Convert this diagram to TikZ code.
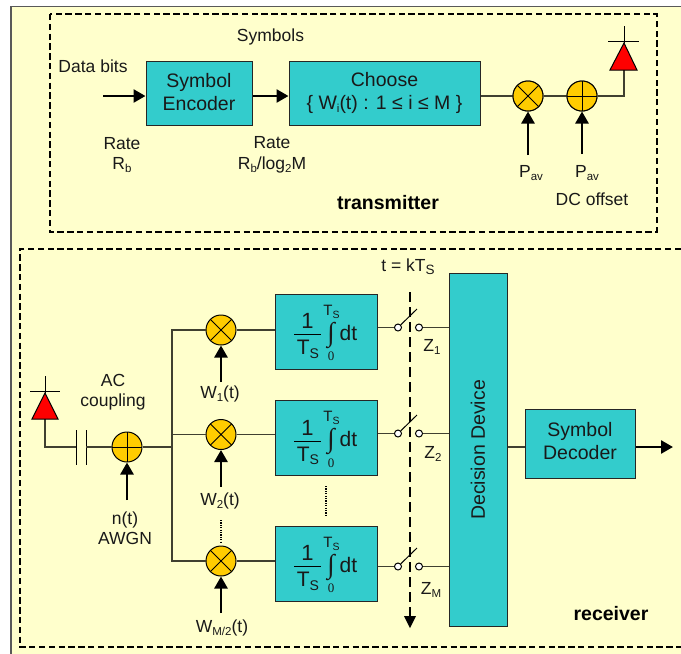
\documentclass[tikz,border=0pt]{standalone}
\usepackage{fontspec}
\setmainfont{Liberation Sans}
\newfontfamily\serifint{Liberation Serif}
\usetikzlibrary{arrows.meta,calc}
\definecolor{cream}{HTML}{FFFFCC}
\definecolor{tealbox}{HTML}{33CCCC}
\definecolor{amber}{HTML}{FFCC00}
\definecolor{wire}{HTML}{404030}
\newcommand{\szA}{\fontsize{17.5}{20.5}\selectfont}
\newcommand{\szB}{\fontsize{19.5}{23}\selectfont}
\newcommand{\lowsub}[1]{\raisebox{-0.16em}{\fontsize{11.5}{12}\selectfont #1}}
\newcommand{\intbody}[1]{%
  \node[intxt,font=\fontsize{22}{24}\selectfont] (#1one) at ($(#1.center)+(-18.5,-10.5)$) {1};
  \node[intxt,font=\fontsize{21}{24}\selectfont] (#1den) at ($(#1.center)+(-18,18)$) {T\raisebox{-0.16em}{\fontsize{14}{16}\selectfont S}};
  \draw[line width=0.9pt] ($(#1.center)+(-32,3)$) -- ($(#1.center)+(-5,3)$);
  \node[intxt,font=\serifint\fontsize{27}{28}\selectfont] (#1int) at ($(#1.center)+(5,3.5)$) {∫};
  \node[intxt,font=\fontsize{15}{16}\selectfont] (#1up) at ($(#1.center)+(5.5,-20)$) {T\raisebox{-0.2em}{\fontsize{10.5}{11}\selectfont S}};
  \node[intxt,font=\serifint\fontsize{13}{14}\selectfont] (#1lo) at ($(#1.center)+(5,25)$) {0};
  \node[intxt,font=\fontsize{21}{22}\selectfont] (#1dt) at ($(#1.center)+(22.5,1)$) {dt};
}
\tikzset{
  x=1pt,y=-1pt,
  txt/.style={inner sep=0pt,font=\szA,text=black!90,align=center},
  intxt/.style={inner sep=0pt,text=black!90},
  boldtxt/.style={inner sep=0pt,font=\bfseries\fontsize{19.5}{22}\selectfont},
  block/.style={draw=black!85,line width=1pt,fill=tealbox,inner sep=0pt},
  blocktxt/.style={inner sep=0pt,font=\szB,align=center,text=black!90},
  wireline/.style={draw=wire,line width=1.1pt},
  sigarrow/.style={line width=2.6pt,-{Triangle[length=12pt,width=13pt]}},
  dashbox/.style={line width=2pt,dash pattern=on 6.3pt off 3.5pt},
  mixer/.style={circle,draw=black,line width=1pt,fill=amber,minimum size=30pt,inner sep=0pt,
    path picture={\draw[line width=1pt] (path picture bounding box.north west)--(path picture bounding box.south east)
      (path picture bounding box.north east)--(path picture bounding box.south west);}},
  adder/.style={circle,draw=black,line width=1pt,fill=amber,minimum size=30pt,inner sep=0pt,
    path picture={\draw[line width=1pt] (path picture bounding box.north)--(path picture bounding box.south)
      (path picture bounding box.west)--(path picture bounding box.east);}},
  contact/.style={circle,draw=black,line width=1pt,fill=white,minimum size=7pt,inner sep=0pt},
  antenna/.style={draw=black,line width=1pt,fill=red},
  intbox/.style={block,minimum width=102pt,minimum height=75pt},
}
\begin{document}
\begin{tikzpicture}
\useasboundingbox (0,0) rectangle (681,654);
\fill[white] (0,0) rectangle (681,654);
\fill[cream] (11,6.5) rectangle (681,654);
\draw[black!65,line width=1.2pt] (11,654) -- (11,6.5) -- (681,6.5);
% dashed regions
\draw[dashbox] (49.5,14) rectangle (656.5,231.5);
\draw[dashbox] (681,249) -- (20,249) -- (20,647) -- (681,647);
% transmitter
\node[block,minimum width=106pt,minimum height=64pt] (enc) at (199,93) {};
\node[blocktxt] (enctxt) at (199,92) {Symbol\\Encoder};
\node[block,minimum width=191pt,minimum height=64pt] (choose) at (384.5,93) {};
\node[blocktxt] (choosetxt) at (384.5,93) {Choose\\{\fontsize{19.5}{23}\selectfont\{ W\lowsub{i}(t) : 1 ≤ i ≤ M \}}};
\node[mixer] (mixT) at (528,96) {};
\node[adder] (addT) at (582,96) {};
\coordinate (dataIn) at (103,96);
\coordinate (pavA) at (528,155);
\coordinate (pavB) at (582,154);
\coordinate (antTbase) at (624,70);
\coordinate (antTapex) at (624,43);
\draw[sigarrow] (dataIn) -- (enc.west |- dataIn);
\draw[sigarrow] (enc.east |- dataIn) -- (choose.west |- dataIn);
\draw[wireline] (choose.east |- mixT) -- (mixT);
\draw[wireline] (mixT) -- (addT);
\draw[wireline] (addT) -- (antTbase |- addT) -- (antTbase);
\node[mixer] at (mixT) {};
\node[adder] at (addT) {};
\draw[sigarrow] (pavA) -- (mixT.south);
\draw[sigarrow] (pavB) -- (addT.south);
\draw[antenna] (antTapex) -- (610,70) -- (637,70) -- cycle;
\draw[line width=0.8pt] (624,26) -- (antTapex) (608,41) -- (639,41);
\node[txt] (symb) at (270.5,36.5) {Symbols};
\node[txt] (data) at (93,66.5) {Data bits};
\node[txt] (rateA) at (122,155) {Rate\\R\lowsub{b}};
\node[txt] (rateB) at (272,155) {Rate\\R\lowsub{b}/log\lowsub{2}M};
\node[txt] (pavlA) at (531,173) {P\lowsub{av}};
\node[txt] (pavlB) at (587,173) {P\lowsub{av}};
\node[txt] (dc) at (592,199) {DC offset};
\node[boldtxt] (tx) at (388,203) {transmitter};
% receiver front end
\coordinate (antRbase) at (45,419);
\coordinate (antRapex) at (45,393);
\coordinate (capL) at (76.5,447);
\coordinate (capR) at (86,447);
\coordinate (bus) at (172,447);
\node[adder] (addR) at (127,447) {};
\node[mixer] (m1) at (221,330) {};
\node[mixer] (m2) at (221,434.5) {};
\node[mixer] (m3) at (221,561) {};
\draw[wireline] (antRbase) -- (antRbase |- capL) -- (capL);
\draw[line width=0.9pt] (76.5,430) -- (76.5,465) (86,430) -- (86,465);
\draw[wireline] (capR) -- (addR.west);
\draw[wireline] (addR.east) -- (bus);
\draw[wireline] (m1.west) -- (bus |- m1) -- (bus |- m3) -- (m3.west);
\draw[wireline] (bus |- m2) -- (m2.west);
\draw[antenna] (antRapex) -- (32,419) -- (58,419) -- cycle;
\draw[line width=0.8pt] (45,376) -- (antRapex) (30,391) -- (60,391);
\coordinate (nIn) at (127,500);
\coordinate (w1In) at (221,382);
\coordinate (w2In) at (221,486.5);
\coordinate (w3In) at (221,613);
\draw[sigarrow] (nIn) -- (addR.south);
\draw[sigarrow] (w1In) -- (m1.south);
\draw[sigarrow] (w2In) -- (m2.south);
\draw[sigarrow] (w3In) -- (m3.south);
\draw[line width=2pt,dash pattern=on 1.2pt off 1.2pt] (221,520) -- (221,542);
\node[txt] (ac) at (113,392) {AC\\coupling};
\node[txt] (nt) at (125,528) {n(t)\\AWGN};
\node[txt] (w1) at (220,394) {W\lowsub{1}(t)};
\node[txt] (w2) at (220,501) {W\lowsub{2}(t)};
\node[txt] (w3) at (222,628) {W\lowsub{M/2}(t)};
% integrators
\node[intbox] (b1) at (326,331.5) {};
\node[intbox] (b2) at (326,438) {};
\node[intbox] (b3) at (326,563.5) {};
\intbody{b1}
\intbody{b2}
\intbody{b3}
\draw[wireline] (m1.east) -- (b1.west |- m1);
\draw[wireline] (m2.east) -- (b2.west |- m2);
\draw[wireline] (m3.east) -- (b3.west |- m3);
\draw[line width=2pt,dash pattern=on 1.2pt off 1.2pt] (326,486) -- (326,515);
% decision device
\node[block,minimum width=58pt,minimum height=353pt] (dec) at (478,449.5) {};
\node[intxt,rotate=90,font=\szB] (dectxt) at (478,450) {Decision Device};
% switches
\node[contact] (sL1) at (398,327.5) {};
\node[contact] (sR1) at (419,327.5) {};
\node[contact] (sL2) at (398,433.5) {};
\node[contact] (sR2) at (419,433.5) {};
\node[contact] (sL3) at (398,566.5) {};
\node[contact] (sR3) at (419,566.5) {};
\coordinate (t1) at (417,309);
\coordinate (t2) at (417,415);
\coordinate (t3) at (417,548);
\foreach \i in {1,2,3}{
  \draw[wireline] (b\i.east |- sL\i) -- (sL\i);
  \draw[wireline] (sR\i) -- (dec.west |- sR\i);
  \draw[line width=1pt] (sL\i) -- (t\i);
}
\coordinate (clkTop) at (410,292);
\coordinate (clkEnd) at (410,616);
\coordinate (clkTip) at (410,628);
\draw[line width=2.2pt,dash pattern=on 10pt off 5pt] (clkTop) -- (clkEnd);
\fill (404,616) -- (416,616) -- (clkTip) -- cycle;
\node[txt] (tk) at (408,267) {t = kT\raisebox{-0.16em}{\fontsize{13.5}{14}\selectfont S}};
\node[txt] (z1) at (432,347) {Z\lowsub{1}};
\node[txt] (z2) at (433,454) {Z\lowsub{2}};
\node[txt] (z3) at (431,590) {Z\lowsub{M}};
% decoder
\node[block,minimum width=109.5pt,minimum height=69pt] (sdec) at (580.5,443.5) {};
\node[blocktxt] (sdectxt) at (580,441.5) {Symbol\\Decoder};
\coordinate (outp) at (673,447);
\draw[wireline] (dec.east |- outp) -- (sdec.west |- outp);
\draw[sigarrow] (sdec.east |- outp) -- (outp);
\node[boldtxt] (rx) at (611,614) {receiver};
\end{tikzpicture}
\end{document}
